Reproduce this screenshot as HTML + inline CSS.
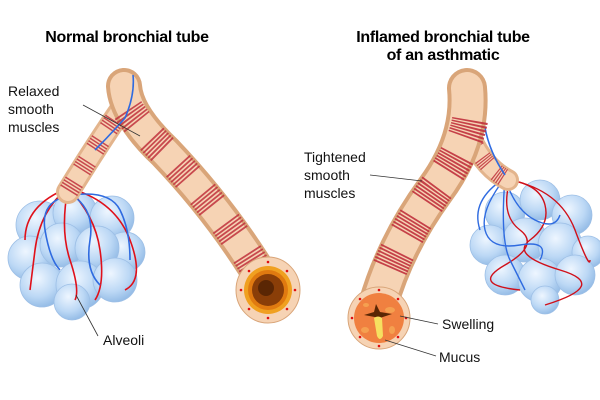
<!DOCTYPE html>
<html><head><style>html,body{margin:0;padding:0;background:#fff;width:600px;height:400px;overflow:hidden}</style></head>
<body>
<svg width="600" height="400" viewBox="0 0 600 400" xmlns="http://www.w3.org/2000/svg" font-family="Liberation Sans, sans-serif">
<defs>
<radialGradient id="alv" cx="0.4" cy="0.35" r="0.7"><stop offset="0" stop-color="#eef6ff"/><stop offset="0.6" stop-color="#bcd8f5"/><stop offset="1" stop-color="#8fb8e4"/></radialGradient>
</defs>
<text x="127" y="42" font-size="16" font-weight="bold" text-anchor="middle" letter-spacing="-0.3">Normal bronchial tube</text>
<text x="443" y="42" font-size="16" font-weight="bold" text-anchor="middle" letter-spacing="-0.3">Inflamed bronchial tube</text>
<text x="443" y="60" font-size="16" font-weight="bold" text-anchor="middle" letter-spacing="-0.3">of an asthmatic</text>

<g fill="url(#alv)" stroke="#9dbfe6" stroke-width="0.8">
<circle cx="40" cy="225" r="24"/><circle cx="75" cy="213" r="22"/><circle cx="112" cy="218" r="22"/><circle cx="125" cy="252" r="20"/>
<circle cx="30" cy="258" r="22"/><circle cx="62" cy="245" r="22"/><circle cx="97" cy="248" r="22"/>
<circle cx="42" cy="285" r="22"/><circle cx="80" cy="285" r="24"/><circle cx="115" cy="280" r="22"/><circle cx="72" cy="302" r="18"/>
</g>
<g fill="none" stroke-width="1.6">
<path d="M68 188 Q40 210 35 250 T30 290" stroke="#e0101a"/>
<path d="M68 188 Q60 230 70 260 T75 300" stroke="#e0101a"/>
<path d="M68 188 Q95 215 100 250 T95 300" stroke="#e0101a"/>
<path d="M68 188 Q115 200 130 240 T125 290" stroke="#e0101a"/>
<path d="M68 188 Q25 205 25 240" stroke="#e0101a"/>
<path d="M72 195 Q110 190 120 210 T130 260" stroke="#2f6be0"/>
<path d="M72 195 Q40 200 45 230 T60 270" stroke="#2f6be0"/>
<path d="M72 195 Q95 210 90 240 T100 285" stroke="#2f6be0"/>
</g>
<path d="M128 100 Q100 140 68 192" stroke="#e3b48c" stroke-width="24" fill="none" stroke-linecap="round"/>
<path d="M128 100 Q100 140 68 192" stroke="#f6d3b4" stroke-width="18" fill="none" stroke-linecap="round"/>
<path d="M128 100 Q100 140 68 192" stroke="#c0303c" stroke-width="20" fill="none" stroke-dasharray="1.5 1.5 1.5 1.5 1.5 1.5 1.5 14" opacity="0.85"/>
<path d="M124 86 Q126 115 165 152 Q225 215 268 288" stroke="#d9a579" stroke-width="36" fill="none" stroke-linecap="round"/>
<path d="M124 86 Q126 115 165 152 Q225 215 268 288" stroke="#f6d3b4" stroke-width="28" fill="none" stroke-linecap="round"/>
<path d="M128 110 Q140 128 165 152 Q225 215 258 272" stroke="#c0303c" stroke-width="32" fill="none" stroke-dasharray="1.8 1.6 1.8 1.6 1.8 1.6 1.8 1.6 1.8 22" opacity="0.85"/>
<path d="M133 75 Q135 95 125 118 Q110 135 95 150" stroke="#2f6be0" stroke-width="1.6" fill="none"/>
<ellipse cx="268" cy="290" rx="32" ry="33" fill="#f6d3b4" stroke="#d9a579"/>
<circle cx="268" cy="290" r="24" fill="#f0a020"/>
<circle cx="268" cy="290" r="20" fill="#e07a10"/>
<circle cx="268" cy="290" r="16" fill="#8a3e08"/>
<circle cx="266" cy="288" r="8" fill="#5a2604"/>
<g fill="#e01010"><circle cx="268" cy="262" r="1.3"/><circle cx="268" cy="318" r="1.3"/><circle cx="241" cy="290" r="1.3"/><circle cx="295" cy="290" r="1.3"/><circle cx="249" cy="271" r="1.3"/><circle cx="287" cy="271" r="1.3"/><circle cx="249" cy="309" r="1.3"/><circle cx="287" cy="309" r="1.3"/></g>

<g fill="url(#alv)" stroke="#9dbfe6" stroke-width="0.8">
<circle cx="505" cy="212" r="20"/><circle cx="540" cy="200" r="20"/><circle cx="572" cy="215" r="20"/>
<circle cx="490" cy="245" r="20"/><circle cx="525" cy="240" r="22"/><circle cx="560" cy="245" r="22"/><circle cx="588" cy="252" r="16"/>
<circle cx="505" cy="275" r="20"/><circle cx="540" cy="280" r="22"/><circle cx="575" cy="275" r="20"/><circle cx="545" cy="300" r="14"/>
</g>
<g fill="none" stroke-width="1.4">
<path d="M510 180 Q540 185 545 205 T530 240 T560 270 T545 305" stroke="#d0101a"/>
<path d="M510 180 Q500 215 520 230 T505 265 T520 290" stroke="#d0101a"/>
<path d="M510 180 Q560 190 575 230 T590 260" stroke="#d0101a"/>
<path d="M505 178 Q480 210 485 230 T520 245 T540 260" stroke="#2f6be0"/>
<path d="M505 178 Q515 210 535 220 T560 215" stroke="#2f6be0"/>
<path d="M505 178 Q470 200 480 230" stroke="#2f6be0"/>
<path d="M505 178 Q500 240 510 260 T525 290" stroke="#2f6be0"/>
</g>
<path d="M472 140 Q485 168 508 180" stroke="#e3b48c" stroke-width="22" fill="none" stroke-linecap="round"/>
<path d="M472 140 Q485 168 508 180" stroke="#f6d3b4" stroke-width="16" fill="none" stroke-linecap="round"/>
<path d="M472 140 Q485 168 508 180" stroke="#c0303c" stroke-width="18" fill="none" stroke-dasharray="1.2 1.2 1.2 1.2 1.2 1.2 1.2 12" opacity="0.85"/>
<path d="M484 122 Q488 150 505 175" stroke="#2f6be0" stroke-width="1.6" fill="none"/>
<path d="M467 88 Q472 140 435 190 Q395 245 378 305" stroke="#d9a579" stroke-width="40" fill="none" stroke-linecap="round"/>
<path d="M467 88 Q472 140 435 190 Q395 245 378 305" stroke="#f6d3b4" stroke-width="32" fill="none" stroke-linecap="round"/>
<path d="M470 120 Q465 150 435 190 Q400 240 385 280" stroke="#c0303c" stroke-width="36" fill="none" stroke-dasharray="1.8 1.4 1.8 1.4 1.8 1.4 1.8 1.4 1.8 1.4 1.8 20" opacity="0.9"/>
<ellipse cx="379" cy="318" rx="31" ry="31" fill="#f6d3b4" stroke="#d9a579"/>
<circle cx="379" cy="318" r="25" fill="#f08040"/>
<g fill="#f5a050"><ellipse cx="390" cy="310" rx="5" ry="3"/><ellipse cx="365" cy="330" rx="4" ry="3"/><ellipse cx="392" cy="330" rx="3" ry="4"/><ellipse cx="366" cy="305" rx="3" ry="2"/></g>
<path d="M364 315 L374 312 L376 304 L380 312 L392 314 L380 318 Z" fill="#5a2604"/>
<path d="M374 318 Q378 315 382 318 L383 336 Q380 342 377 336 Z" fill="#f6e060"/>
<g fill="#e01010"><circle cx="379" cy="290" r="1.3"/><circle cx="379" cy="346" r="1.3"/><circle cx="352" cy="318" r="1.3"/><circle cx="406" cy="318" r="1.3"/><circle cx="360" cy="299" r="1.3"/><circle cx="398" cy="299" r="1.3"/><circle cx="360" cy="337" r="1.3"/><circle cx="398" cy="337" r="1.3"/></g>

<g font-size="14" fill="#111">
<text x="8" y="96">Relaxed</text><text x="8" y="114">smooth</text><text x="8" y="132">muscles</text>
<text x="103" y="345">Alveoli</text>
<text x="304" y="162">Tightened</text><text x="304" y="180">smooth</text><text x="304" y="198">muscles</text>
<text x="442" y="329">Swelling</text>
<text x="439" y="362">Mucus</text>
</g>
<g stroke="#333" stroke-width="0.8" fill="none">
<line x1="83" y1="105" x2="140" y2="136"/>
<line x1="76" y1="295" x2="98" y2="336"/>
<line x1="370" y1="175" x2="422" y2="181"/>
<line x1="400" y1="316" x2="438" y2="324"/>
<line x1="385" y1="340" x2="436" y2="356"/>
</g>
</svg>
</body></html>
